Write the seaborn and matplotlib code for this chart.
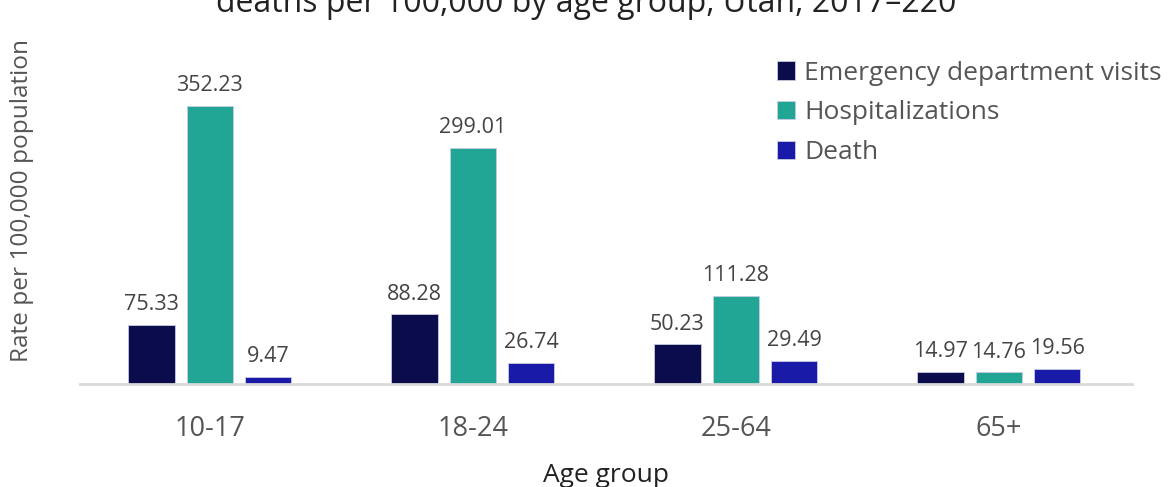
import matplotlib
matplotlib.use("Agg")
import matplotlib.pyplot as plt
import seaborn as sns
import pandas as pd

age_groups = ["10-17", "18-24", "25-64", "65+"]
series = ["Emergency department visits", "Hospitalizations", "Death"]
ed_visits = [75.33, 88.28, 50.23, 14.97]
hospitalizations = [352.23, 299.01, 111.28, 14.76]
deaths = [9.47, 26.74, 29.49, 19.56]
colors = ["#0b0c4b", "#21a695", "#1a1aa8"]

title_text = "deaths per 100,000 by age group, Utah, 2017\u2013220"

sns.set_theme(style="white")
plt.rcParams["font.family"] = ["Open Sans", "DejaVu Sans"]

rows = []
for name, vals in zip(series, [ed_visits, hospitalizations, deaths]):
    for g, v in zip(age_groups, vals):
        rows.append({"Age group": g, "Series": name, "Rate": v})
df = pd.DataFrame(rows)

fig = plt.figure(figsize=(11.73, 4.87), dpi=100)
ax = fig.add_axes([80 / 1173, 1 - 384 / 487, (1132 - 80) / 1173, (384 - 50) / 487])

sns.barplot(data=df, x="Age group", y="Rate", hue="Series", hue_order=series,
            order=age_groups, palette=colors, saturation=1, width=0.667, gap=0.21,
            ax=ax, errorbar=None, edgecolor="#c8cbe0", linewidth=0.6)

for cont in ax.containers:
    ax.bar_label(cont, fmt="%.2f", padding=7, fontsize=15.5, color="#444444")

ax.set_xlim(-0.494, 3.506)
ax.set_ylim(0, 334 / 0.789)
ax.set_yticks([])
for s in ["top", "right", "left"]:
    ax.spines[s].set_visible(False)
ax.spines["bottom"].set_color("#d9d9d9")
ax.spines["bottom"].set_linewidth(2)
ax.tick_params(axis="x", length=0, pad=22, labelsize=19.5, labelcolor="#555555")

ax.set_xlabel("Age group", fontsize=19, color="#222222", labelpad=15)
ax.set_ylabel("")
fig.text(22 / 1173, 1 - 200 / 487, "Rate per 100,000 population", rotation=90,
         ha="center", va="center", fontsize=17.6, color="#555555")

leg = ax.legend(loc="upper left", bbox_to_anchor=(766 / 1173, 1 - 50 / 487),
                bbox_transform=fig.transFigure, frameon=False, fontsize=19,
                handlelength=0.7, handleheight=0.7, handletextpad=0.35,
                labelspacing=0.56, borderaxespad=0)
for t in leg.get_texts():
    t.set_color("#555555")

fig.text(586 / 1173, 1 - 12 / 487, title_text, ha="center", va="baseline",
         fontsize=23, color="#222222")

fig.savefig("out.png", dpi=100)
